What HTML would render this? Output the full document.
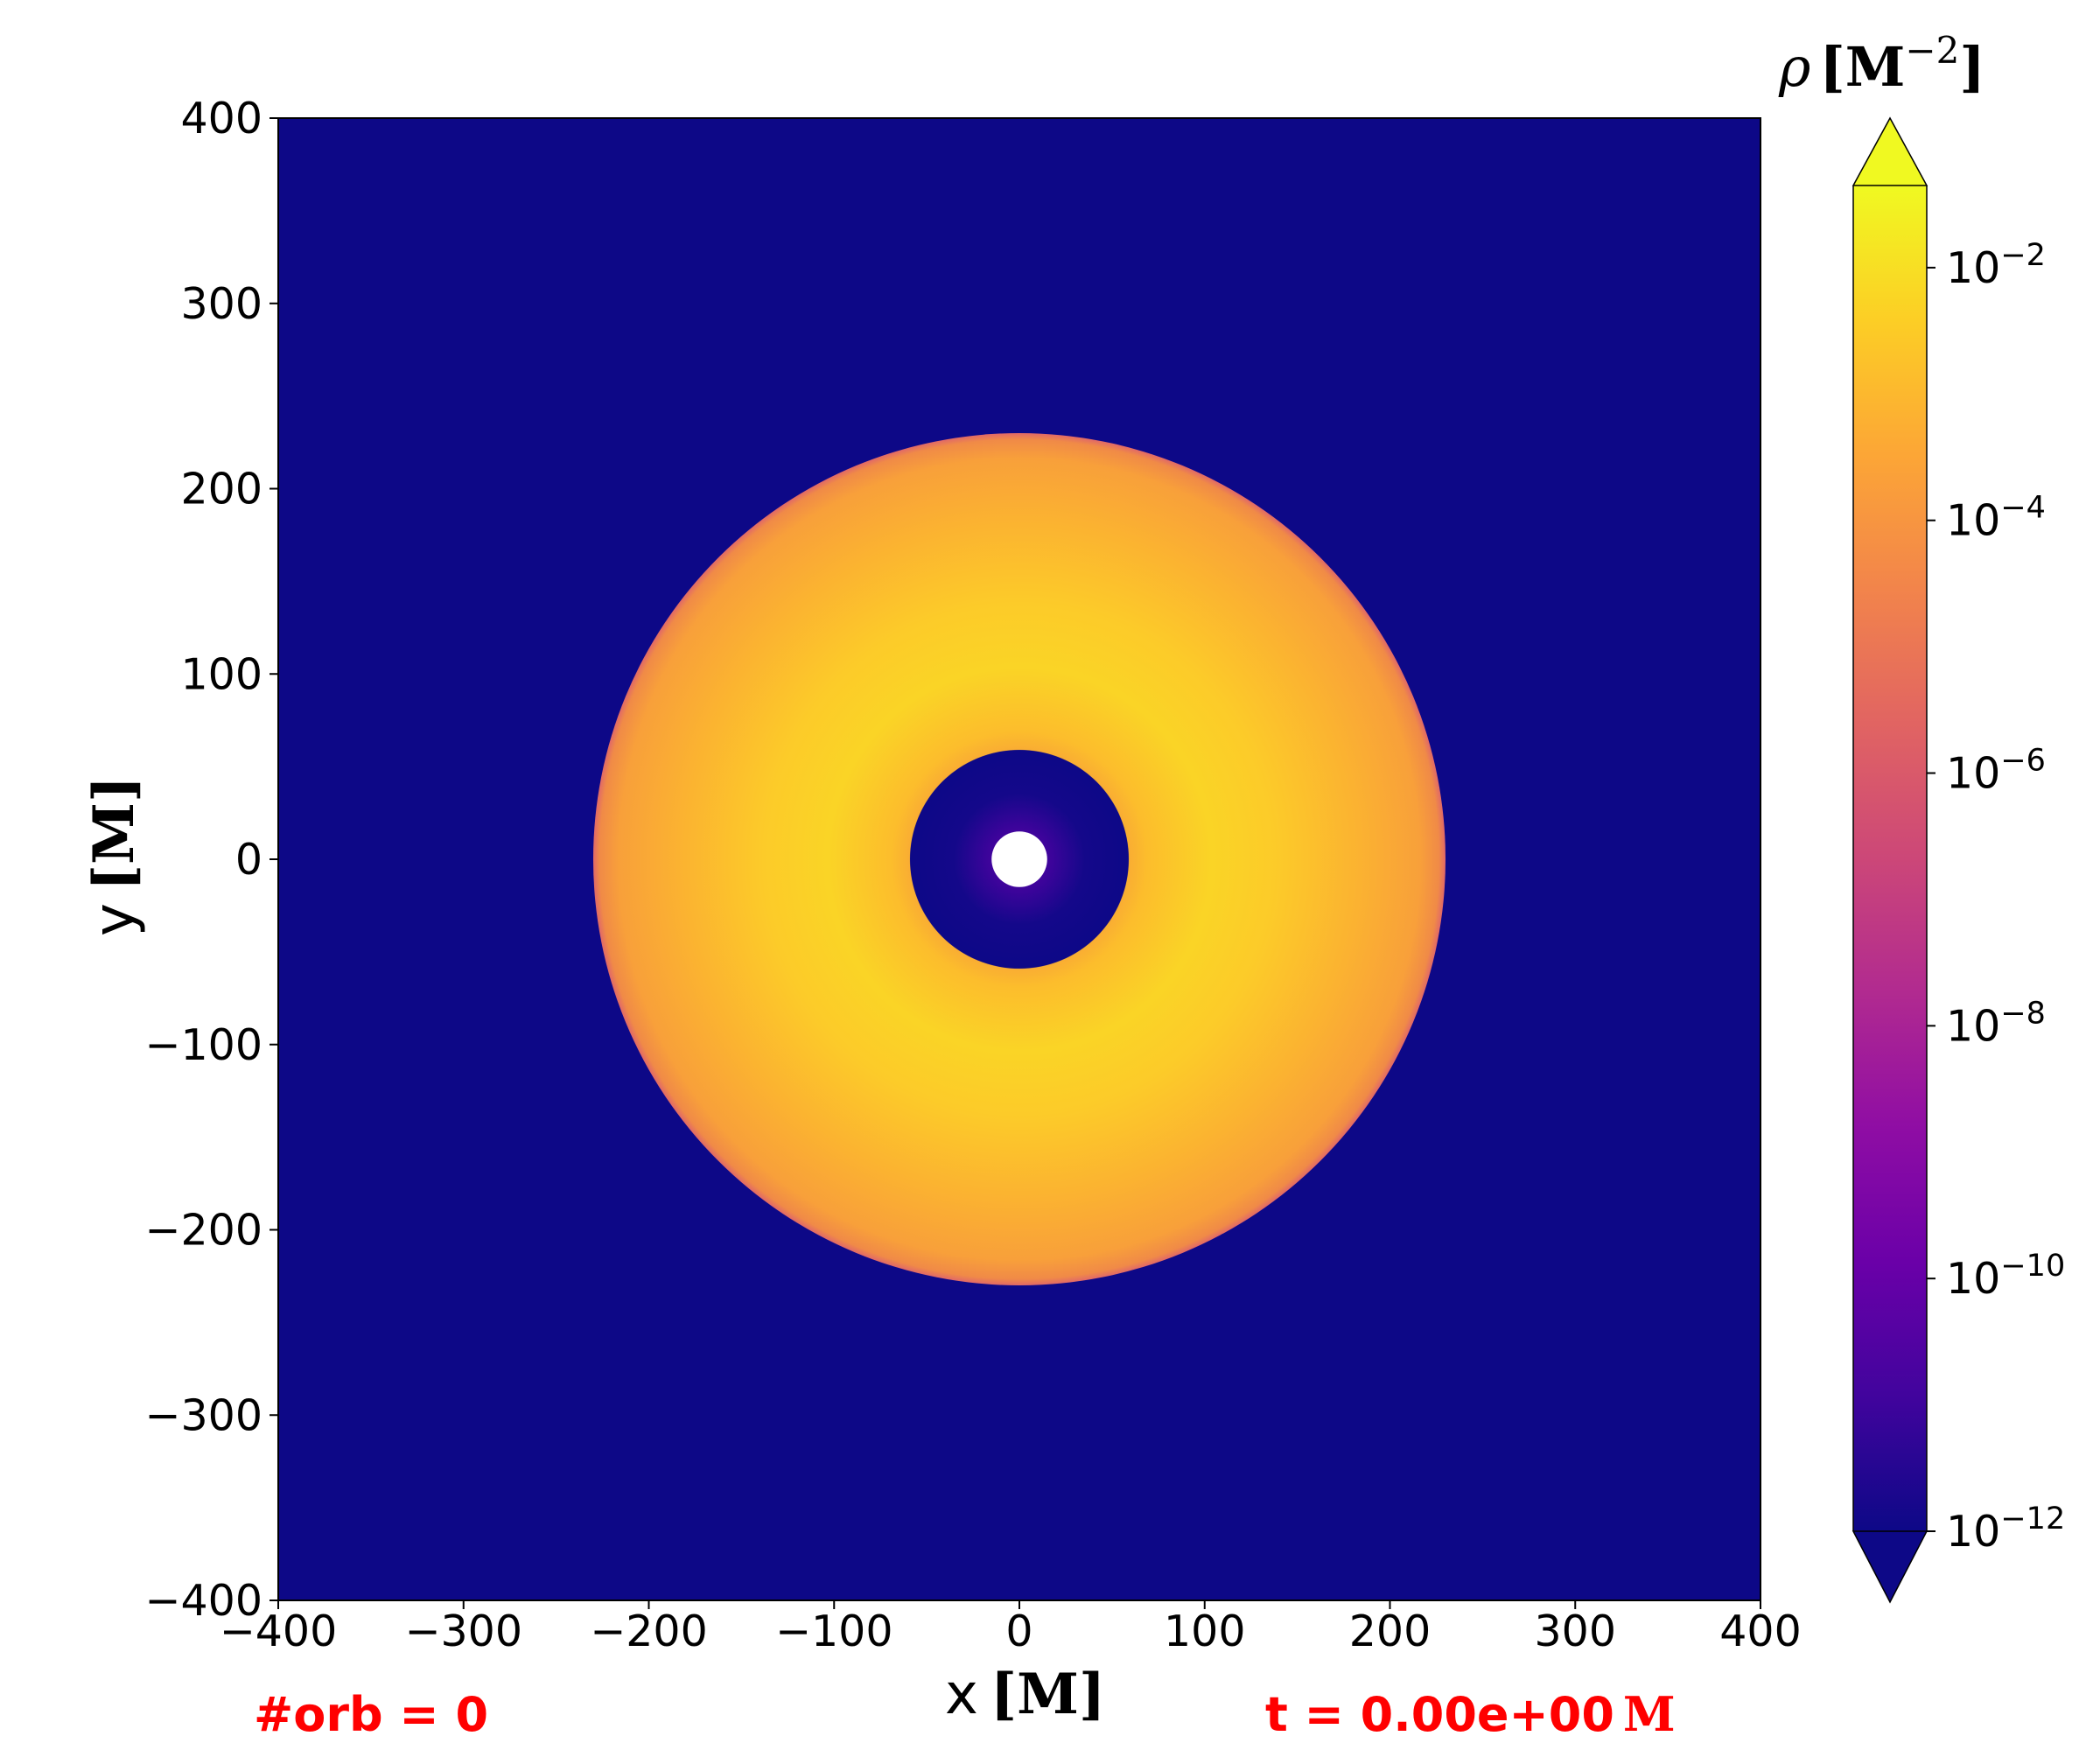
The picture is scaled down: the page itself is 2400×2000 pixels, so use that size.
<!DOCTYPE html>
<html><head><meta charset="utf-8">
<style>
html,body{margin:0;padding:0;background:#fff;}
svg{display:block;font-family:"DejaVu Sans","Liberation Sans",sans-serif;}
</style></head>
<body>
<svg id="fig" width="2400" height="2000" viewBox="0 0 2400 2000" xmlns="http://www.w3.org/2000/svg">
<defs>
  <radialGradient id="ringGrad" gradientUnits="userSpaceOnUse" cx="1164" cy="980" r="490">
    <stop offset="0" stop-color="#0d0887"/>
    <stop offset="0.255" stop-color="#0d0887"/>
    <stop offset="0.258" stop-color="#f9ad33"/>
    <stop offset="0.3" stop-color="#fcbd2c"/>
    <stop offset="0.45" stop-color="#fad426"/>
    <stop offset="0.6" stop-color="#fccb29"/>
    <stop offset="0.8" stop-color="#fbb231"/>
    <stop offset="0.94" stop-color="#f8a03a"/>
    <stop offset="0.985" stop-color="#f08a47"/>
    <stop offset="1" stop-color="#e06868"/>
  </radialGradient>
  <radialGradient id="holeGrad" gradientUnits="userSpaceOnUse" cx="1164" cy="980" r="120">
    <stop offset="0" stop-color="#5c01a6"/>
    <stop offset="0.3" stop-color="#3b049a"/>
    <stop offset="0.6" stop-color="#14088a"/>
    <stop offset="1" stop-color="#0d0887"/>
  </radialGradient>
  <linearGradient id="cbGrad" x1="0" y1="1" x2="0" y2="0">
    <stop offset="0" stop-color="#0d0887"/>
    <stop offset="0.1" stop-color="#41049d"/>
    <stop offset="0.2" stop-color="#6a00a8"/>
    <stop offset="0.3" stop-color="#8f0da4"/>
    <stop offset="0.4" stop-color="#b12a90"/>
    <stop offset="0.5" stop-color="#cc4778"/>
    <stop offset="0.6" stop-color="#e16462"/>
    <stop offset="0.7" stop-color="#f2844b"/>
    <stop offset="0.8" stop-color="#fca636"/>
    <stop offset="0.9" stop-color="#fcce25"/>
    <stop offset="1" stop-color="#f0f921"/>
  </linearGradient>
</defs>
<g id="plot"></g>
<g id="cbar"></g>
</svg>
<script>
const xTicks = [-400,-300,-200,-100,0,100,200,300,400];
const yTicks = [-400,-300,-200,-100,0,100,200,300,400];
const cbExponents = [-12,-10,-8,-6,-4,-2];
const ringOuter = 230;
const ringInner = 59;
const holeRadius = 15;
const cbMinExp = -12, cbMaxExp = -1.35;

const NS = "http://www.w3.org/2000/svg";
const L = 318, R = 2012, T = 135, B = 1829;
const xs = v => L + (v + 400) / 800 * (R - L);
const ys = v => B - (v + 400) / 800 * (B - T);
const rs = v => v / 800 * (R - L);
function mk(tag, attrs, parent, text) {
  const e = document.createElementNS(NS, tag);
  for (const k in attrs) e.setAttribute(k, attrs[k]);
  if (text !== undefined) e.textContent = text;
  parent.appendChild(e);
  return e;
}
const plot = document.getElementById('plot');
const bg = mk('rect', {x:L, y:T, width:R-L, height:B-T, fill:'#0d0887'}, plot);


const cx = xs(0), cy = ys(0);
document.getElementById('ringGrad').setAttribute('cx', cx);
document.getElementById('ringGrad').setAttribute('cy', cy);
document.getElementById('ringGrad').setAttribute('r', rs(ringOuter));
document.getElementById('holeGrad').setAttribute('cx', cx);
document.getElementById('holeGrad').setAttribute('cy', cy);
document.getElementById('holeGrad').setAttribute('r', rs(ringInner));
document.getElementById('ringGrad').children[1].setAttribute('offset', ringInner/ringOuter - 0.002);
document.getElementById('ringGrad').children[2].setAttribute('offset', ringInner/ringOuter + 0.001);
const ring = mk('circle', {cx:cx, cy:cy, r:rs(ringOuter), fill:'url(#ringGrad)'}, plot);


const inner = mk('circle', {cx:cx, cy:cy, r:rs(ringInner), fill:'url(#holeGrad)'}, plot);


const hole = mk('circle', {cx:cx, cy:cy, r:rs(holeRadius), fill:'#ffffff'}, plot);


const frame = mk('rect', {x:L, y:T, width:R-L, height:B-T, fill:'none', stroke:'#000', 'stroke-width':2}, plot);



const fmt = v => (v < 0 ? '\u2212' + (-v) : '' + v);
xTicks.forEach(v => {
  const x = xs(v);
  const tk = mk('line', {x1:x, x2:x, y1:B, y2:B+10, stroke:'#000', 'stroke-width':2}, plot);
  
  
  const t = mk('text', {x:x, y:B+52, 'font-size':49, 'text-anchor':'middle'}, plot, fmt(v));
  
  
});
yTicks.forEach(v => {
  const y = ys(v);
  const tk = mk('line', {x1:L-10, x2:L, y1:y, y2:y, stroke:'#000', 'stroke-width':2}, plot);
  
  
  const t = mk('text', {x:L-18, y:y+17, 'font-size':49, 'text-anchor':'end'}, plot, fmt(v));
  
  
});

const cbar = document.getElementById('cbar');
const CL = 2118, CR = 2202, CT = 212, CB = 1750, TipT = 135, TipB = 1831;
const cy2 = e => CB - (e - cbMinExp) / (cbMaxExp - cbMinExp) * (CB - CT);
const body = mk('rect', {x:CL, y:CT, width:CR-CL, height:CB-CT, fill:'url(#cbGrad)'}, cbar);


const up = mk('polygon', {points:`${CL},${CT} ${(CL+CR)/2},${TipT} ${CR},${CT}`, fill:'#f0f921', stroke:'#000', 'stroke-width':1.5}, cbar);


const dn = mk('polygon', {points:`${CL},${CB} ${(CL+CR)/2},${TipB} ${CR},${CB}`, fill:'#0d0887', stroke:'#000', 'stroke-width':1.5}, cbar);


const cbo = mk('polyline', {points:`${CL},${CB} ${CL},${CT}`, stroke:'#000', 'stroke-width':1.5, fill:'none'}, cbar);


const cbo2 = mk('polyline', {points:`${CR},${CB} ${CR},${CT}`, stroke:'#000', 'stroke-width':1.5, fill:'none'}, cbar);


cbExponents.forEach(e => {
  const y = cy2(e);
  const tk = mk('line', {x1:CR, x2:CR+10, y1:y, y2:y, stroke:'#000', 'stroke-width':2}, cbar);
  
  
  const t = mk('text', {x:CR+22, y:y+17, 'font-size':49}, cbar);
  
  
  mk('tspan', {}, t, '10');
  mk('tspan', {dy:-20, 'font-size':35}, t, '\u2212' + (-e));
});
</script>
<svg style="position:absolute;left:0;top:0" width="2400" height="2000">
  <text x="1080" y="1958" font-size="64" font-family="DejaVu Sans,sans-serif">x<tspan font-family="DejaVu Serif,Liberation Serif,serif" font-weight="bold" dx="14">[M]</tspan></text>
  <text transform="translate(152,1070) rotate(-90)" font-size="64" font-family="DejaVu Sans,sans-serif">y<tspan font-family="DejaVu Serif,Liberation Serif,serif" font-weight="bold" dx="14">[M]</tspan></text>
  <text x="2033" y="98" font-size="62" font-family="DejaVu Serif,serif"><tspan font-style="italic">ρ</tspan><tspan font-weight="bold" dx="10">[M</tspan><tspan font-size="42" dy="-26">−2</tspan><tspan font-weight="bold" dy="26">]</tspan></text>
  <text x="290" y="1978" font-size="54" font-weight="bold" fill="#ff0000" font-family="DejaVu Sans,sans-serif">#orb = 0</text>
  <text x="1446" y="1978" font-size="54" font-weight="bold" fill="#ff0000" font-family="DejaVu Sans,sans-serif">t = 0.00e+00<tspan font-family="DejaVu Serif,serif" dx="10">M</tspan></text>
</svg>
</body></html>
